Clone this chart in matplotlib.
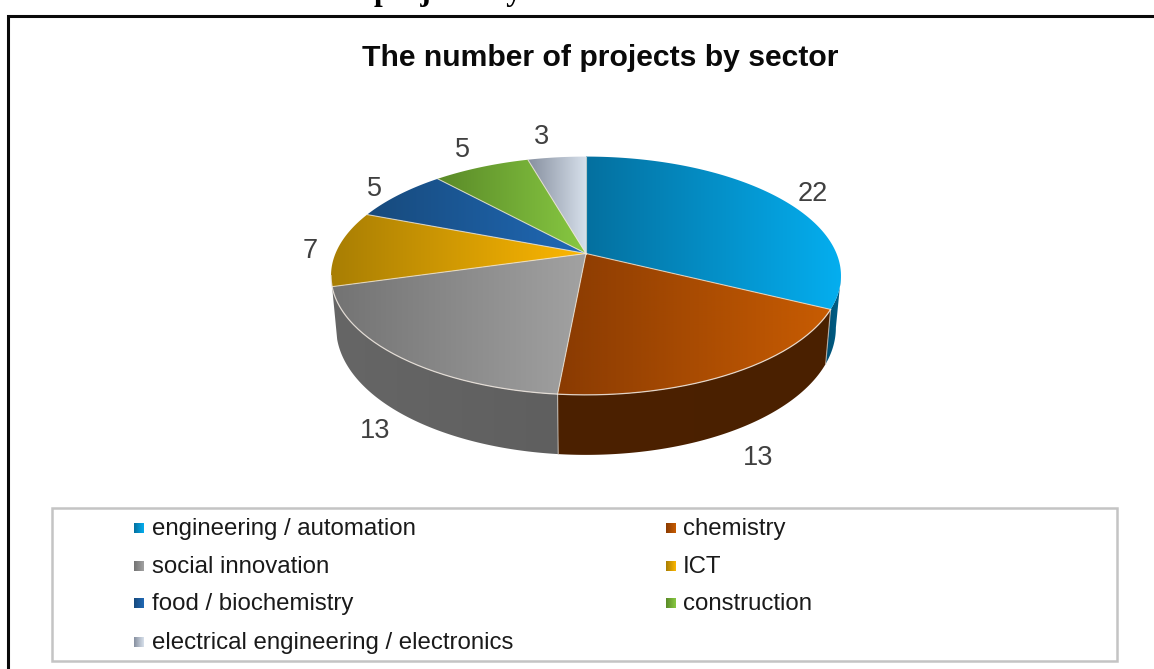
import numpy as np
import matplotlib
matplotlib.use("Agg")
import matplotlib.pyplot as plt
from matplotlib.colors import LinearSegmentedColormap
from matplotlib.patches import Polygon

# data
sectors = [
    "engineering / automation",
    "chemistry",
    "social innovation",
    "ICT",
    "food / biochemistry",
    "construction",
    "electrical engineering / electronics",
]
projects = [22, 13, 13, 7, 5, 5, 3]
title = "The number of projects by sector"

# left / right colour of each slice gradient
top_colors = [
    ("#05709f", "#04aeef"),
    ("#8a3b02", "#c85c02"),
    ("#737373", "#a2a2a2"),
    ("#a87e04", "#fdb702"),
    ("#174a7c", "#2069b6"),
    ("#5a8a28", "#88c942"),
    ("#868f9f", "#d8e1ec"),
]
wall_colors = [
    ("#004f72", "#00628c"),
    ("#4c2100", "#4a2000"),
    ("#666666", "#5f5f5f"),
]

fig = plt.figure(figsize=(11.54, 6.69), dpi=100)
ax = fig.add_axes([0, 0, 1, 1])
plt.rcParams["font.family"] = ["Liberation Sans", "DejaVu Sans"]


# ---------------------------------------------------------
# pie disc in perspective: angle clockwise from 12 o'clock -> pixels
# ---------------------------------------------------------
def rim(angle, lower=False):
    t = np.radians(angle)
    px, py = np.sin(t), np.cos(t)
    w = 1 + 0.1866 * py
    x = 250.5 * px / w
    y = 253.5 - 115 * py / w
    if lower:
        return 586 + 0.98 * x, y + 50 - 10 * py
    return 586 + x, y


def gradient_fill(points, colors, zorder):
    """Fill a polygon with a left to right colour gradient."""
    points = np.array(points)
    x0, x1 = points[:, 0].min(), points[:, 0].max()
    y0, y1 = points[:, 1].min(), points[:, 1].max()
    cmap = LinearSegmentedColormap.from_list("fill", colors)
    im = ax.imshow(np.linspace(0, 1, 256).reshape(1, -1), cmap=cmap, aspect="auto",
                   extent=[x0, x1, y1, y0], interpolation="bilinear", zorder=zorder)
    clip = Polygon(points, closed=True, transform=ax.transData)
    im.set_clip_path(clip)


edges = np.cumsum([0] + projects) / sum(projects) * 360

# side wall, only the front part of the disc shows it
wall_start = np.degrees(np.arccos(-0.1866))
wall_end = 360 - wall_start
for i, colors in enumerate(wall_colors):
    a0 = max(edges[i], wall_start)
    a1 = min(edges[i + 1], wall_end)
    angles = np.linspace(a0, a1, 120)
    upper = [rim(a) for a in angles]
    lower = [rim(a, lower=True) for a in angles[::-1]]
    gradient_fill(upper + lower, colors, 1)
    if i > 0:
        xa, ya = rim(a0)
        xb, yb = rim(a0, lower=True)
        ax.plot([xa, xb], [ya, yb], color="#c8c0b8", lw=0.8, alpha=0.8, zorder=1.5)

# top of the pie
for i, colors in enumerate(top_colors):
    angles = np.linspace(edges[i], edges[i + 1], 150)
    pts = [(586, 253.5)] + [rim(a) for a in angles]
    gradient_fill(pts, colors, 2)

for i, a in enumerate(edges[:-1]):
    x, y = rim(a)
    ax.plot([586, x], [253.5, y], color="#f2e8d8", lw=0.8, alpha=0.75, zorder=3)

# light line on the front edge
angles = np.linspace(edges[1], wall_end, 200)
ax.plot(*zip(*[rim(a) for a in angles]), color="#f0e8e0", lw=0.9, alpha=0.85, zorder=3)

# value labels, offset in pixels from the rim at the middle of each slice
label_offsets = [(33, -4), (26, 84), (-24, 74), (-28, 3), (-25, -6), (-19, -17), (-15, -20)]
for i, n in enumerate(projects):
    x, y = rim((edges[i] + edges[i + 1]) / 2)
    dx, dy = label_offsets[i]
    ax.text(x + dx, y + dy, str(n), fontsize=19.5, color="#404040",
            ha="center", va="center", zorder=5)

# title, and the line of the page above that is cut by the picture edge
ax.text(600, 57.5, title, fontsize=21.7, fontweight="bold", color="#0a0a0a",
        ha="center", va="center", zorder=5)
ax.text(374, 0, "projects by", fontsize=22.5, fontweight="bold", family=["Liberation Serif"],
        color="black", ha="left", va="baseline", zorder=5)

# black frame of the chart: only top and left are in the picture
ax.plot([8, 8, 1154], [669, 15.5, 15.5], color="#0a0a0a", lw=2.2, solid_joinstyle="miter", zorder=4)

# legend box
ax.add_patch(plt.Rectangle((52, 508), 1065, 153, fill=False, edgecolor="#c4c4c4", lw=1.8, zorder=4))
rows = [528, 566, 603, 642]
for i, name in enumerate(sectors):
    row = rows[i // 2]
    mx, tx = (134, 152) if i % 2 == 0 else (666, 683)
    gradient_fill([(mx, row - 5), (mx + 10, row - 5), (mx + 10, row + 5), (mx, row + 5)],
                  top_colors[i], 5)
    ax.text(tx, row + 1, name, fontsize=17.3, color="#1a1a1a", ha="left", va="center", zorder=5)

ax.set_xlim(0, 1154)
ax.set_ylim(669, 0)
ax.axis("off")

fig.savefig("out.png", dpi=100, facecolor="white")
plt.close(fig)
